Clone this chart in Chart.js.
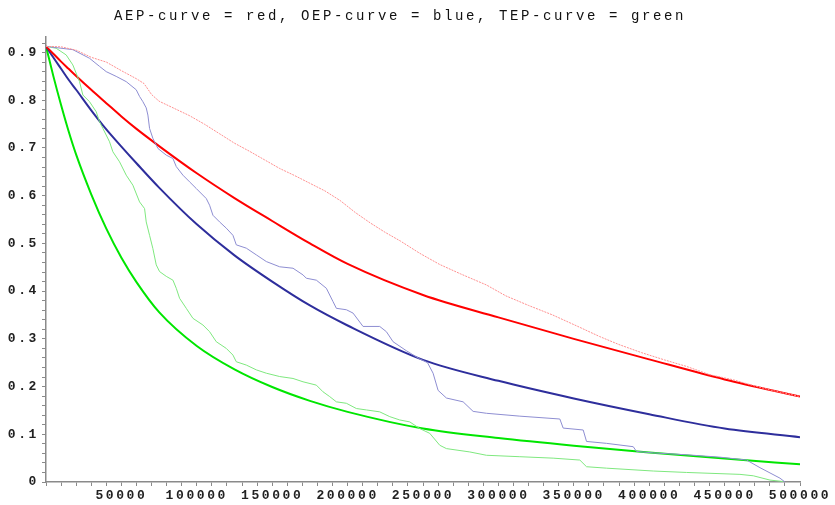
<!DOCTYPE html>
<html lang="en">
<head>
    <meta charset="UTF-8">
    <title>AEP / OEP / TEP curves</title>
    <script src="https://cdn.jsdelivr.net/npm/chart.js"></script>
    <style>
        body { margin: 0; background: #fff; }
        canvas { display: block; }
    </style>
</head>
<body>
    <canvas id="curveChart" width="835" height="505"></canvas>
    <script>
        const titleText = 'AEP-curve = red, OEP-curve = blue, TEP-curve = green';

        // fitted curves, sampled on one grid
        const smoothX = [0, 5000, 10000, 15000, 20000, 30000, 40000, 50000, 60000, 75000, 100000,
            125000, 150000, 175000, 200000, 250000, 300000, 350000, 400000, 450000, 500000];
        const aepCurve = [0.913, 0.897, 0.881, 0.866, 0.851, 0.822, 0.794, 0.766, 0.740, 0.704, 0.647,
            0.595, 0.547, 0.500, 0.457, 0.392, 0.345, 0.300, 0.257, 0.215, 0.179];
        const oepCurve = [0.913, 0.889, 0.866, 0.843, 0.822, 0.779, 0.739, 0.703, 0.668, 0.617, 0.540,
            0.475, 0.420, 0.370, 0.328, 0.256, 0.212, 0.175, 0.142, 0.112, 0.094];
        const tepCurve = [0.913, 0.849, 0.790, 0.735, 0.686, 0.603, 0.531, 0.470, 0.419, 0.356, 0.285,
            0.236, 0.199, 0.170, 0.147, 0.112, 0.092, 0.076, 0.062, 0.049, 0.037];

        // empirical curves (light colours)
        const aepEmpX = [0, 10000, 20000, 30000, 40000, 50000, 60000, 65000, 70000, 75000, 85000, 95000,
            105000, 115000, 125000, 135000, 145000, 155000, 165000, 175000, 185000, 195000, 205000, 215000,
            225000, 235000, 248000, 261000, 275000, 292000, 305000, 320000, 336000, 352000, 367000, 380000,
            395000, 410000, 425000, 440000, 456000, 468000, 480000, 490000, 500000];
        const aepEmpY = [0.913, 0.912, 0.905, 0.890, 0.880, 0.862, 0.845, 0.835, 0.812, 0.798, 0.783, 0.768,
            0.750, 0.730, 0.710, 0.693, 0.675, 0.657, 0.642, 0.626, 0.610, 0.590, 0.565, 0.543,
            0.523, 0.505, 0.479, 0.456, 0.436, 0.413, 0.390, 0.370, 0.350, 0.327, 0.305, 0.288,
            0.271, 0.256, 0.242, 0.225, 0.214, 0.203, 0.193, 0.186, 0.179];

        const oepEmpX = [0, 17806, 28865, 35499, 39924, 46561, 53196, 59829, 62044, 64256, 66464, 67573,
            68679, 70883, 74209, 79734, 84167, 86379, 90802, 95222, 99660, 106281, 108490, 110700, 115120,
            119549, 123970, 126194, 132844, 139458, 146103, 154948, 163797, 170432, 172640, 179275, 185910,
            190335, 192547, 199183, 203605, 210241, 221299, 225721, 230145, 238998, 247844, 253000, 256692,
            260010, 265539, 276599, 283234, 292087, 314200, 340745, 342957, 356227, 358439, 371710, 389406,
            391618, 402677, 424795, 446915, 464611, 473458, 486729, 490047];
        const oepEmpY = [0.913, 0.906, 0.888, 0.871, 0.860, 0.850, 0.839, 0.822, 0.808, 0.797, 0.784, 0.769,
            0.741, 0.720, 0.699, 0.685, 0.678, 0.661, 0.643, 0.629, 0.615, 0.594, 0.580, 0.559, 0.545,
            0.532, 0.517, 0.497, 0.490, 0.476, 0.462, 0.451, 0.448, 0.434, 0.427, 0.423, 0.406,
            0.378, 0.364, 0.361, 0.354, 0.326, 0.326, 0.315, 0.294, 0.275, 0.258, 0.250, 0.228,
            0.192, 0.176, 0.168, 0.148, 0.144, 0.138, 0.132, 0.113, 0.109, 0.085, 0.081, 0.074,
            0.064, 0.061, 0.057, 0.052, 0.046, 0.030, 0.008, 0.000];

        const tepEmpX = [0, 6746, 13381, 17806, 22229, 24441, 28865, 33288, 35499, 37711, 42137, 44348,
            48773, 53196, 57619, 62044, 65361, 66464, 68679, 70883, 73102, 75316, 79734, 84167, 86379,
            88590, 93013, 97436, 104073, 108490, 112914, 119549, 123970, 126194, 132844, 139458, 146103,
            154948, 163797, 170432, 179275, 183701, 188124, 192547, 199183, 205817, 212455, 221299, 227937,
            234566, 241202, 247844, 254479, 261114, 265539, 281026, 292087, 314200, 336301, 353998, 358439,
            371710, 402677, 424795, 460186, 469030, 480097, 488944];
        const tepEmpY = [0.913, 0.909, 0.895, 0.874, 0.839, 0.811, 0.797, 0.776, 0.755, 0.741, 0.713, 0.692,
            0.671, 0.643, 0.622, 0.587, 0.573, 0.545, 0.517, 0.489, 0.455, 0.441, 0.431, 0.423, 0.406,
            0.385, 0.364, 0.343, 0.329, 0.315, 0.294, 0.280, 0.266, 0.252, 0.245, 0.235, 0.228,
            0.221, 0.217, 0.210, 0.203, 0.189, 0.179, 0.168, 0.165, 0.154, 0.151, 0.147, 0.137,
            0.130, 0.126, 0.112, 0.102, 0.077, 0.070, 0.063, 0.056, 0.053, 0.050, 0.046, 0.032,
            0.029, 0.023, 0.020, 0.016, 0.013, 0.004, 0.001];

        const toPoints = (xs, ys) => xs.map((x, i) => ({ x, y: ys[i] }));

        // canvas state gets reset on resize, so set the spacing before each layout/draw
        const spacedText = {
            id: 'spacedText',
            beforeLayout(c) { c.ctx.letterSpacing = '2.6px'; },
            beforeDraw(c) { c.ctx.letterSpacing = '2.6px'; }
        };

        const thin = (data, color, dash) => ({
            data, borderColor: color, borderWidth: 1, borderDash: dash || [], pointRadius: 0,
            showLine: true, tension: 0
        });
        const thick = (data, color) => ({
            data, borderColor: color, borderWidth: 2, pointRadius: 0, showLine: true,
            cubicInterpolationMode: 'monotone'
        });

        const axisColor = '#8a8a8a';
        const tickFont = { family: 'Liberation Mono', size: 13, weight: 'bold' };

        const ctx = document.getElementById('curveChart').getContext('2d');
        new Chart(ctx, {
            type: 'scatter',
            data: {
                datasets: [
                    thin(toPoints(aepEmpX, aepEmpY), '#ff9090', [2, 1]),
                    thin(toPoints(oepEmpX, oepEmpY), '#8e8ed2'),
                    thin(toPoints(tepEmpX, tepEmpY), '#7fe87f'),
                    thick(toPoints(smoothX, aepCurve), '#ff0000'),
                    thick(toPoints(smoothX, oepCurve), '#2e2e9c'),
                    thick(toPoints(smoothX, tepCurve), '#00e600')
                ]
            },
            options: {
                responsive: false,
                animation: false,
                layout: { padding: { left: 0, right: 35, top: 0, bottom: 0 } },
                plugins: {
                    legend: { display: false },
                    tooltip: { enabled: false },
                    title: {
                        display: true,
                        text: titleText,
                        color: '#111',
                        font: { family: 'Liberation Mono', size: 14, weight: 'normal' },
                        padding: { top: 8, bottom: 12 }
                    }
                },
                scales: {
                    x: {
                        type: 'linear',
                        min: 0,
                        max: 500000,
                        afterFit: s => { s.height = 23; },
                        border: { color: axisColor, width: 1.5 },
                        grid: { drawOnChartArea: false, tickLength: 4, color: axisColor },
                        ticks: {
                            stepSize: 10000,
                            autoSkip: false,
                            maxRotation: 0,
                            includeBounds: false,
                            padding: 2,
                            color: '#222',
                            font: tickFont,
                            callback: v => (v > 0 && v % 50000 === 0 ? String(v) : '')
                        }
                    },
                    y: {
                        min: 0,
                        max: 0.933,
                        afterFit: s => { s.width = 46; },
                        border: { color: axisColor, width: 1.5 },
                        grid: { drawOnChartArea: false, tickLength: 4, color: axisColor },
                        ticks: {
                            stepSize: 0.02,
                            autoSkip: false,
                            includeBounds: false,
                            padding: 3,
                            color: '#222',
                            font: tickFont,
                            callback: v => {
                                const r = Math.round(v * 100);
                                if (r % 10 !== 0) return '';
                                return r === 0 ? '0' : (r / 100).toFixed(1);
                            }
                        }
                    }
                }
            },
            plugins: [spacedText]
        });
    </script>
</body>
</html>
